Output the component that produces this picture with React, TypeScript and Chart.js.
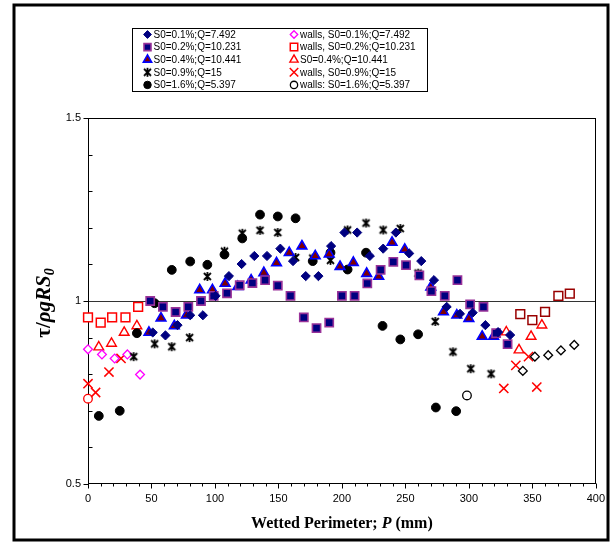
import React, { useEffect, useRef } from 'react';
import { Chart, registerables } from 'chart.js';

Chart.register(...registerables);

// ---- data ----
const s01X = [51, 61, 70.5, 80.5, 90.5, 100.5, 111, 121, 131, 141, 151.5, 161.5, 171.5, 181.5, 191.5, 202, 212, 222, 232.5, 242.5, 253, 262.5, 272.5, 282.5, 293, 303, 313, 323, 332.5];
const s01Y = [0.914, 0.906, 0.934, 0.961, 0.961, 1.014, 1.068, 1.101, 1.123, 1.123, 1.143, 1.109, 1.068, 1.068, 1.15, 1.187, 1.187, 1.123, 1.143, 1.187, 1.13, 1.109, 1.057, 0.984, 0.965, 0.968, 0.934, 0.915, 0.907];

const s02X = [49, 59, 69, 79, 89, 99, 109.5, 119.5, 129.5, 139.5, 149.5, 159.5, 170, 180, 190, 200, 210, 220, 230.5, 240.5, 250.5, 261, 270.5, 281, 291, 301, 311.5, 321.5, 330.5];
const s02Y = [1.0, 0.984, 0.97, 0.984, 1.0, 1.014, 1.021, 1.043, 1.049, 1.057, 1.042, 1.014, 0.955, 0.926, 0.941, 1.014, 1.014, 1.048, 1.085, 1.107, 1.098, 1.07, 1.027, 1.014, 1.057, 0.991, 0.984, 0.912, 0.882];

const s04X = [48, 57.5, 68, 77.5, 88, 98, 108, 118, 128.5, 138.5, 148.5, 158.5, 168.5, 179, 190, 198.5, 209, 219.5, 229, 239.5, 249.5, 270, 280, 290.5, 300, 310.5, 319.5];
const s04Y = [0.914, 0.953, 0.932, 0.961, 1.03, 1.03, 1.048, 1.039, 1.057, 1.077, 1.104, 1.132, 1.15, 1.123, 1.128, 1.094, 1.105, 1.075, 1.067, 1.16, 1.141, 1.038, 0.97, 0.961, 0.952, 0.903, 0.903];

const s09X = [36, 52.5, 66, 80, 94, 107.5, 121.5, 135.5, 149.5, 163.5, 177, 191, 204.5, 219, 232.5, 246, 260, 273.5, 287.5, 301.5, 317.5];
const s09Y = [0.848, 0.883, 0.875, 0.9, 1.067, 1.136, 1.185, 1.193, 1.187, 1.119, 1.117, 1.111, 1.194, 1.213, 1.194, 1.198, 1.076, 0.944, 0.861, 0.815, 0.801];

const s16X = [8.5, 25, 38.5, 52.5, 66, 80.5, 94, 107.5, 121.5, 135.5, 149.5, 163.5, 177, 191, 204.5, 219, 232, 246, 260, 274, 290];
const s16Y = [0.686, 0.7, 0.912, 0.994, 1.085, 1.108, 1.099, 1.127, 1.171, 1.236, 1.231, 1.226, 1.109, 1.132, 1.086, 1.132, 0.932, 0.895, 0.909, 0.709, 0.699];

const w01X = [0, 11, 21, 31, 41, 342.5, 352, 362.5, 372.5, 383];
const w01Y = [0.868, 0.854, 0.843, 0.854, 0.799, 0.809, 0.848, 0.852, 0.865, 0.88];

const w02X = [0, 10, 19, 29.5, 39.5, 340.5, 350, 360, 370.5, 379.5];
const w02Y = [0.955, 0.941, 0.955, 0.955, 0.984, 0.964, 0.948, 0.97, 1.014, 1.02];

const w04X = [8.5, 18.5, 28.5, 38.5, 329.5, 339.5, 349, 357.5];
const w04Y = [0.874, 0.884, 0.914, 0.932, 0.915, 0.866, 0.903, 0.934];

const w09X = [0, 6, 16.5, 26, 327.5, 337, 347, 353.5];
const w09Y = [0.774, 0.75, 0.806, 0.843, 0.761, 0.824, 0.848, 0.765];

const w16X = [0, 298.5];
const w16Y = [0.733, 0.742];

const xTickLabels = [0, 50, 100, 150, 200, 250, 300, 350, 400];
const yTickLabels = [0.5, 1, 1.5];

const legendLabels = [
  'S0=0.1%;Q=7.492', 'walls, S0=0.1%;Q=7.492',
  'S0=0.2%;Q=10.231', 'walls, S0=0.2%;Q=10.231',
  'S0=0.4%;Q=10.441', 'S0=0.4%;Q=10.441',
  'S0=0.9%;Q=15', 'walls, S0=0.9%;Q=15',
  'S0=1.6%;Q=5.397', 'walls: S0=1.6%;Q=5.397',
];

const NAVY = '#000080';
const PURPLE = '#993399';
const MAROON = '#800000';
const BLUE = '#0000FF';
const RED = '#FF0000';
const MAGENTA = '#FF00FF';
const DARKRED = '#990000';

function makeStar(): HTMLCanvasElement {
  const c = document.createElement('canvas');
  c.width = 11; c.height = 11;
  const g = c.getContext('2d')!;
  g.strokeStyle = '#000';
  g.lineWidth = 1.8;
  g.beginPath();
  g.moveTo(2, 2); g.lineTo(9, 9);
  g.moveTo(9, 2); g.lineTo(2, 9);
  g.moveTo(5.5, 1); g.lineTo(5.5, 10);
  g.stroke();
  return c;
}

function drawMarker(ctx: CanvasRenderingContext2D, kind: any, x: number, y: number, r: number, fill: string | null, stroke: string, lw: number) {
  ctx.save();
  if (kind instanceof HTMLCanvasElement) {
    ctx.drawImage(kind, x - kind.width / 2, y - kind.height / 2);
    ctx.restore();
    return;
  }
  ctx.lineWidth = lw;
  ctx.strokeStyle = stroke;
  ctx.beginPath();
  if (kind === 'circle') {
    ctx.arc(x, y, r, 0, Math.PI * 2);
  } else if (kind === 'rect') {
    const h = r * Math.SQRT1_2;
    ctx.rect(x - h, y - h, 2 * h, 2 * h);
  } else if (kind === 'rectRot') {
    ctx.moveTo(x, y - r); ctx.lineTo(x + r, y); ctx.lineTo(x, y + r); ctx.lineTo(x - r, y); ctx.closePath();
  } else if (kind === 'triangle') {
    let a = 0;
    ctx.moveTo(x + Math.sin(a) * r, y - Math.cos(a) * r);
    a += (2 * Math.PI) / 3;
    ctx.lineTo(x + Math.sin(a) * r, y - Math.cos(a) * r);
    a += (2 * Math.PI) / 3;
    ctx.lineTo(x + Math.sin(a) * r, y - Math.cos(a) * r);
    ctx.closePath();
  } else if (kind === 'crossRot') {
    const d = r * Math.SQRT1_2;
    ctx.moveTo(x - d, y - d); ctx.lineTo(x + d, y + d);
    ctx.moveTo(x + d, y - d); ctx.lineTo(x - d, y + d);
  }
  if (fill && kind !== 'crossRot') { ctx.fillStyle = fill; ctx.fill(); }
  ctx.stroke();
  ctx.restore();
}

const pts = (xs: number[], ys: number[]) => xs.map((x, i) => ({ x, y: ys[i] }));

export default function App() {
  const ref = useRef<HTMLCanvasElement>(null);
  useEffect(() => {
    const star = makeStar();
    const specs: any[] = [
      { label: legendLabels[0], xs: s01X, ys: s01Y, style: 'rectRot', r: 4.6, bg: NAVY, bd: NAVY, bw: 1 },
      { label: legendLabels[2], xs: s02X, ys: s02Y, style: 'rect', r: 5.8, bg: NAVY, bd: PURPLE, bw: 1.6 },
      { label: legendLabels[4], xs: s04X, ys: s04Y, style: 'triangle', r: 5.6, bg: MAROON, bd: BLUE, bw: 1.6 },
      { label: legendLabels[6], xs: s09X, ys: s09Y, style: star, r: 5.5, bg: '#000', bd: '#000', bw: 1 },
      { label: legendLabels[8], xs: s16X, ys: s16Y, style: 'circle', r: 4.4, bg: '#000', bd: '#000', bw: 1 },
      { label: legendLabels[1], xs: w01X, ys: w01Y, style: 'rectRot', r: 4.4, bg: '#fff', bd: w01X.map((x) => (x < 200 ? MAGENTA : '#000')), bw: 1.3, lbd: MAGENTA },
      { label: legendLabels[3], xs: w02X, ys: w02Y, style: 'rect', r: 6.2, bg: '#fff', bd: w02X.map((x) => (x < 200 ? RED : DARKRED)), bw: 1.5, lbd: RED },
      { label: legendLabels[5], xs: w04X, ys: w04Y, style: 'triangle', r: 5.6, bg: '#fff', bd: RED, bw: 1.4 },
      { label: legendLabels[7], xs: w09X, ys: w09Y, style: 'crossRot', r: 6.5, bg: RED, bd: RED, bw: 1.5 },
      { label: legendLabels[9], xs: w16X, ys: w16Y, style: 'circle', r: 4.3, bg: '#fff', bd: w16X.map((x) => (x < 200 ? RED : '#000')), bw: 1.3, lbd: '#000' },
    ];
    const datasets = specs.map((s) => ({
      label: s.label,
      data: pts(s.xs, s.ys),
      showLine: false,
      clip: false,
      pointStyle: s.style,
      pointRadius: s.r,
      pointHoverRadius: s.r,
      pointBackgroundColor: s.bg,
      pointBorderColor: s.bd,
      pointBorderWidth: s.bw,
      backgroundColor: s.bg,
      borderColor: s.bd,
    }));

    const legendOrder = [0, 5, 1, 6, 2, 7, 3, 8, 4, 9];

    const decor = {
      id: 'decor',
      beforeDatasetsDraw(chart: any) {
        const ctx = chart.ctx;
        const a = chart.chartArea;
        const ys = chart.scales.y;
        ctx.save();
        const y1 = Math.round(ys.getPixelForValue(1)) + 0.5;
        ctx.strokeStyle = '#333';
        ctx.lineWidth = 1.2;
        ctx.beginPath();
        ctx.moveTo(a.left, y1);
        ctx.lineTo(a.right, y1);
        ctx.stroke();
        // plot frame
        ctx.strokeStyle = '#000';
        ctx.lineWidth = 1;
        const L = Math.round(a.left) + 0.5, R = Math.round(a.right) - 0.5;
        const T = Math.round(a.top) + 0.5, B = Math.round(a.bottom) - 0.5;
        ctx.strokeRect(L, T, R - L, B - T);
        ctx.restore();
      },
      afterDraw(chart: any) {
        const ctx = chart.ctx;
        const a = chart.chartArea;
        const xs = chart.scales.x;
        const ys = chart.scales.y;
        ctx.save();
        ctx.strokeStyle = '#000';
        ctx.lineWidth = 1;
        const L = Math.round(a.left) + 0.5;
        const B = Math.round(a.bottom) - 0.5;
        // ticks
        ctx.beginPath();
        for (let v = 0; v <= 400; v += 10) {
          const px = Math.round(xs.getPixelForValue(v)) + 0.5;
          const len = v % 50 === 0 ? 5 : 3;
          ctx.moveTo(px, B); ctx.lineTo(px, B + len);
        }
        for (let k = 0; k <= 10; k++) {
          const v = 0.5 + k * 0.1;
          const py = Math.round(ys.getPixelForValue(v)) + 0.5;
          if (k % 5 === 0) { ctx.moveTo(L - 5, py); ctx.lineTo(L, py); }
          else { ctx.moveTo(L, py); ctx.lineTo(L + 4, py); }
        }
        ctx.stroke();

        // y title
        ctx.fillStyle = '#000';
        ctx.save();
        ctx.translate(44, (a.top + a.bottom) / 2 + 2);
        ctx.rotate(-Math.PI / 2);
        const fam = '"Liberation Serif", "Times New Roman", serif';
        const parts = [
          { t: 'τ/', f: `bold 21px ${fam}`, dy: 0 },
          { t: 'ρgRS', f: `italic bold 21px ${fam}`, dy: 0 },
          { t: '0', f: `italic bold 14px ${fam}`, dy: 4 },
        ];
        let total = 0;
        for (const p of parts) { ctx.font = p.f; total += ctx.measureText(p.t).width; }
        let cx = -total / 2;
        ctx.textBaseline = 'alphabetic';
        for (const p of parts) {
          ctx.font = p.f;
          ctx.fillText(p.t, cx, 6 + p.dy);
          cx += ctx.measureText(p.t).width;
        }
        ctx.restore();

        // x title
        const xp = [
          { t: 'Wetted Perimeter; ', f: `bold 16px ${fam}` },
          { t: 'P', f: `italic bold 16px ${fam}` },
          { t: ' (mm)', f: `bold 16px ${fam}` },
        ];
        let tw = 0;
        for (const p of xp) { ctx.font = p.f; tw += ctx.measureText(p.t).width; }
        let sx = (a.left + a.right) / 2 - tw / 2;
        ctx.textBaseline = 'alphabetic';
        for (const p of xp) {
          ctx.font = p.f;
          ctx.fillText(p.t, sx, 528);
          sx += ctx.measureText(p.t).width;
        }

        // legend
        ctx.lineWidth = 1;
        ctx.strokeStyle = '#000';
        ctx.strokeRect(132.5, 28.5, 295, 63);
        ctx.font = '10px "Liberation Sans", Arial, sans-serif';
        ctx.textBaseline = 'middle';
        ctx.textAlign = 'left';
        legendOrder.forEach((di, i) => {
          const s = specs[di];
          const col = i % 2;
          const row = Math.floor(i / 2);
          const my = 34.5 + row * 12.6;
          const mx = col === 0 ? 147.5 : 294;
          const bd = s.lbd || s.bd;
          const r = s.style === 'crossRot' ? 6 : s.r * 0.85;
          drawMarker(ctx, s.style, mx, my, r, s.bg, bd, s.bw);
          ctx.fillStyle = '#000';
          ctx.fillText(s.label, mx + 6, my + 0.5);
        });

        // outer frame
        ctx.lineWidth = 3;
        ctx.strokeStyle = '#000';
        ctx.strokeRect(14, 5, 594, 535);
        ctx.restore();
      },
    };

    const chart = new Chart(ref.current!, {
      type: 'scatter',
      data: { datasets },
      options: {
        animation: false,
        responsive: false,
        devicePixelRatio: 1,
        events: [],
        layout: { padding: { top: 118, right: 15, left: 0, bottom: 0 } },
        plugins: { legend: { display: false }, tooltip: { enabled: false }, title: { display: false } },
        scales: {
          x: {
            type: 'linear',
            min: 0,
            max: 400,
            afterFit: (s: any) => { s.height = 65; },
            afterBuildTicks: (s: any) => { s.ticks = xTickLabels.map((v) => ({ value: v })); },
            ticks: { color: '#000', padding: 8, maxRotation: 0, autoSkip: false, font: { family: '"Liberation Sans", Arial, sans-serif', size: 11 } },
            grid: { display: false, drawTicks: false },
            border: { display: false },
          },
          y: {
            type: 'linear',
            min: 0.5,
            max: 1.5,
            afterFit: (s: any) => { s.width = 88; },
            afterBuildTicks: (s: any) => { s.ticks = yTickLabels.map((v) => ({ value: v })); },
            ticks: { color: '#000', padding: 7, callback: (v: any) => String(v), font: { family: '"Liberation Sans", Arial, sans-serif', size: 11 } },
            grid: { display: false, drawTicks: false },
            border: { display: false },
          },
        },
      },
      plugins: [decor],
    } as any);
    return () => chart.destroy();
  }, []);
  return (
    <div style={{ position: 'fixed', left: 0, top: 0, width: 613, height: 549, background: '#fff' }}>
      <canvas ref={ref} width={613} height={549} style={{ display: 'block' }} />
    </div>
  );
}
